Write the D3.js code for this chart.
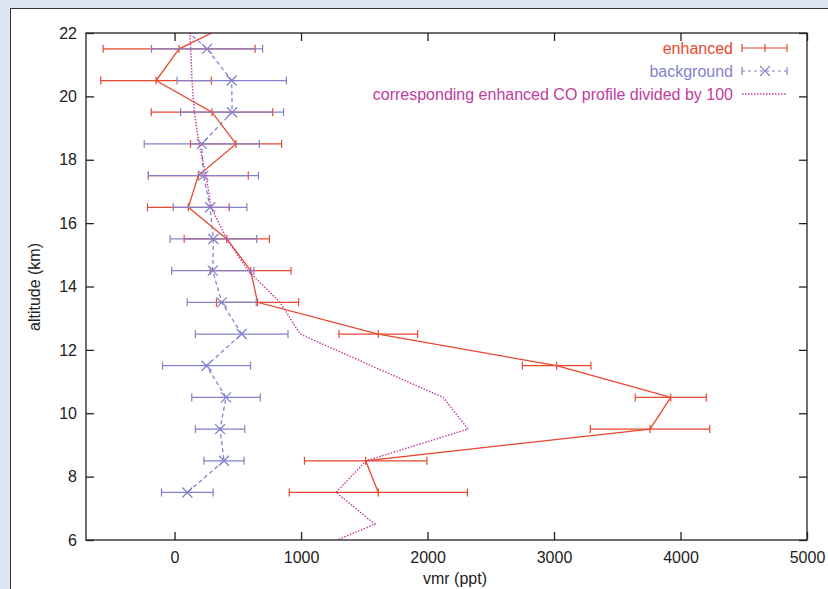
<!DOCTYPE html>
<html>
<head>
<meta charset="utf-8">
<script src="https://cdn.jsdelivr.net/npm/d3@7"></script>
<style>
  html, body { margin: 0; padding: 0; background: #dce6f0; }
  svg { display: block; font-family: "Liberation Sans", Arial, Helvetica, sans-serif; }
</style>
</head>
<body>
<script>
// Altitudes des points (km)
const altitudes = [22.5, 21.5, 20.5, 19.5, 18.5, 17.5, 16.5, 15.5, 14.5, 13.5, 12.5, 11.5, 10.5, 9.5, 8.5, 7.5]

// Profil "enhanced" et ses barres d'erreur (ppt)
const enhanced    = [549, 36, -146, 296, 486, 188, 109, 413, 602, 656, 1611, 3021, 3923, 3759, 1511, 1611]
const enhancedErr = [600, 601, 437, 480, 360, 395, 323, 337, 319, 325, 311, 271, 281, 472, 484, 704]

// Profil "background"
const background    = [-20, 257, 452, 455, 215, 228, 281, 307, 302, 373, 531, 253, 407, 360, 391, 101]
const backgroundErr = [440, 439, 432, 407, 455, 435, 291, 342, 325, 273, 366, 348, 271, 195, 159, 204]

// Profil CO / 100
const coAltitudes = [22.5, 21.5, 20.5, 19.5, 18.5, 17.5, 16.5, 15.5, 14.5, 13.5, 12.5, 11.5, 10.5, 9.5, 8.5, 7.5, 6.5, 5.5]
const coProfile   = [115, 128, 138, 157, 194, 249, 289, 413, 581, 834, 992, 1555, 2123, 2320, 1514, 1277, 1585, 985]

// Graduations
const xTicks = [0, 1000, 2000, 3000, 4000, 5000]
const yTicks = [6, 8, 10, 12, 14, 16, 18, 20, 22]

const legendLabels = ['enhanced', 'background', 'corresponding enhanced CO profile divided by 100']

const red = '#e8482e', blue = '#8282cc', magenta = '#c03c9e'

const W = 828, H = 589
const mLeft = 86, mRight = 807, mTop = 33, mBottom = 540

const svg = d3.select('body').append('svg')
  .attr('width', W)
  .attr('height', H)

// Panneau blanc
svg.append('rect')
  .attr('x', 10.5).attr('y', 8.5)
  .attr('width', W).attr('height', H)
  .attr('fill', '#fff')
  .attr('stroke', '#333')

const x = d3.scaleLinear().domain([-700, 5000]).range([mLeft, mRight])
const y = d3.scaleLinear().domain([6, 22]).range([mBottom, mTop])

svg.append('clipPath').attr('id', 'clip')
  .append('rect')
  .attr('x', mLeft).attr('y', mTop)
  .attr('width', mRight - mLeft).attr('height', mBottom - mTop)

const plot = svg.append('g').attr('clip-path', 'url(#clip)')

const line = d3.line().x(d => x(d[0])).y(d => y(d[1]))

// Barres d'erreur avec petits traits aux extrémités
function errorBars(vals, errs, color) {
  const g = plot.append('g').attr('stroke', color).attr('stroke-width', 1.2).attr('fill', 'none')
  altitudes.forEach((a, i) => {
    const yy = y(a), x0 = x(vals[i] - errs[i]), x1 = x(vals[i] + errs[i])
    g.append('line').attr('x1', x0).attr('x2', x1).attr('y1', yy).attr('y2', yy)
    g.append('line').attr('x1', x0).attr('x2', x0).attr('y1', yy - 4).attr('y2', yy + 4)
    g.append('line').attr('x1', x1).attr('x2', x1).attr('y1', yy - 4).attr('y2', yy + 4)
  })
  return g
}

// enhanced
errorBars(enhanced, enhancedErr, red)
plot.append('path')
  .datum(altitudes.map((a, i) => [enhanced[i], a]))
  .attr('d', line)
  .attr('fill', 'none').attr('stroke', red).attr('stroke-width', 1.3)
plot.append('g').selectAll('line')
  .data(altitudes.map((a, i) => [enhanced[i], a]))
  .join('line')
  .attr('x1', d => x(d[0])).attr('x2', d => x(d[0]))
  .attr('y1', d => y(d[1]) - 4).attr('y2', d => y(d[1]) + 4)
  .attr('stroke', red).attr('stroke-width', 1.2)

// background
errorBars(background, backgroundErr, blue)
plot.append('path')
  .datum(altitudes.map((a, i) => [background[i], a]))
  .attr('d', line)
  .attr('fill', 'none').attr('stroke', blue).attr('stroke-width', 1.3)
  .attr('stroke-dasharray', '4,3')
plot.append('g').selectAll('path')
  .data(altitudes.map((a, i) => [background[i], a]))
  .join('path')
  .attr('transform', d => `translate(${x(d[0])},${y(d[1])})`)
  .attr('d', 'M-5,-5L5,5M-5,5L5,-5')
  .attr('stroke', blue).attr('stroke-width', 1.3)

// CO / 100
plot.append('path')
  .datum(coAltitudes.map((a, i) => [coProfile[i], a]))
  .attr('d', line)
  .attr('fill', 'none').attr('stroke', magenta).attr('stroke-width', 1.4)
  .attr('stroke-dasharray', '1.5,1.5')

// Axes : graduations vers l'intérieur sur les quatre côtés
const fontSize = 16
svg.append('g')
  .attr('transform', `translate(0,${mBottom})`)
  .call(d3.axisBottom(x).tickValues(xTicks).tickFormat(d3.format('d')).tickSizeInner(-8).tickSizeOuter(0).tickPadding(12))
svg.append('g')
  .attr('transform', `translate(0,${mTop})`)
  .call(d3.axisTop(x).tickValues(xTicks).tickFormat('').tickSizeInner(-8).tickSizeOuter(0))
svg.append('g')
  .attr('transform', `translate(${mLeft},0)`)
  .call(d3.axisLeft(y).tickValues(yTicks).tickSizeInner(-8).tickSizeOuter(0).tickPadding(9))
svg.append('g')
  .attr('transform', `translate(${mRight},0)`)
  .call(d3.axisRight(y).tickValues(yTicks).tickFormat('').tickSizeInner(-8).tickSizeOuter(0))

svg.selectAll('.domain').remove()
svg.selectAll('.tick line').attr('stroke', '#222').attr('stroke-width', 1.3)
svg.selectAll('.tick text').attr('font-size', fontSize).attr('fill', '#222')
  .style('font-family', '"Liberation Sans", Arial, sans-serif')

// Cadre
svg.append('rect')
  .attr('x', mLeft).attr('y', mTop)
  .attr('width', mRight - mLeft).attr('height', mBottom - mTop)
  .attr('fill', 'none').attr('stroke', '#222').attr('stroke-width', 1.3)

// Titres des axes
svg.append('text')
  .text('vmr (ppt)')
  .attr('x', 455).attr('y', 584)
  .attr('text-anchor', 'middle')
  .attr('font-size', 16).attr('fill', '#222')
svg.append('text')
  .text('altitude (km)')
  .attr('transform', 'translate(40,287) rotate(-90)')
  .attr('text-anchor', 'middle')
  .attr('font-size', 16).attr('fill', '#222')

// Légende
const legendY = [48, 71, 94]
const legendColors = [red, blue, magenta]
const lg = svg.append('g')
legendLabels.forEach((t, i) => {
  lg.append('text')
    .text(t)
    .attr('x', 733).attr('y', legendY[i] + 5.5)
    .attr('text-anchor', 'end')
    .attr('font-size', 16)
    .attr('fill', legendColors[i])
})
// enhanced
lg.append('path')
  .attr('d', `M742,${legendY[0]}H787M742,${legendY[0] - 4}V${legendY[0] + 4}M787,${legendY[0] - 4}V${legendY[0] + 4}M765,${legendY[0] - 4}V${legendY[0] + 4}`)
  .attr('stroke', red).attr('stroke-width', 1.2).attr('fill', 'none')
// background
lg.append('path')
  .attr('d', `M742,${legendY[1]}H787`)
  .attr('stroke', blue).attr('stroke-width', 1.2).attr('stroke-dasharray', '3,3')
lg.append('path')
  .attr('d', `M742,${legendY[1] - 4}V${legendY[1] + 4}M787,${legendY[1] - 4}V${legendY[1] + 4}M760,${legendY[1] - 5}L770,${legendY[1] + 5}M760,${legendY[1] + 5}L770,${legendY[1] - 5}`)
  .attr('stroke', blue).attr('stroke-width', 1.2).attr('fill', 'none')
// CO
lg.append('path')
  .attr('d', `M742,${legendY[2]}H787`)
  .attr('stroke', magenta).attr('stroke-width', 1.4).attr('stroke-dasharray', '1.5,1.5')
</script>
</body>
</html>
